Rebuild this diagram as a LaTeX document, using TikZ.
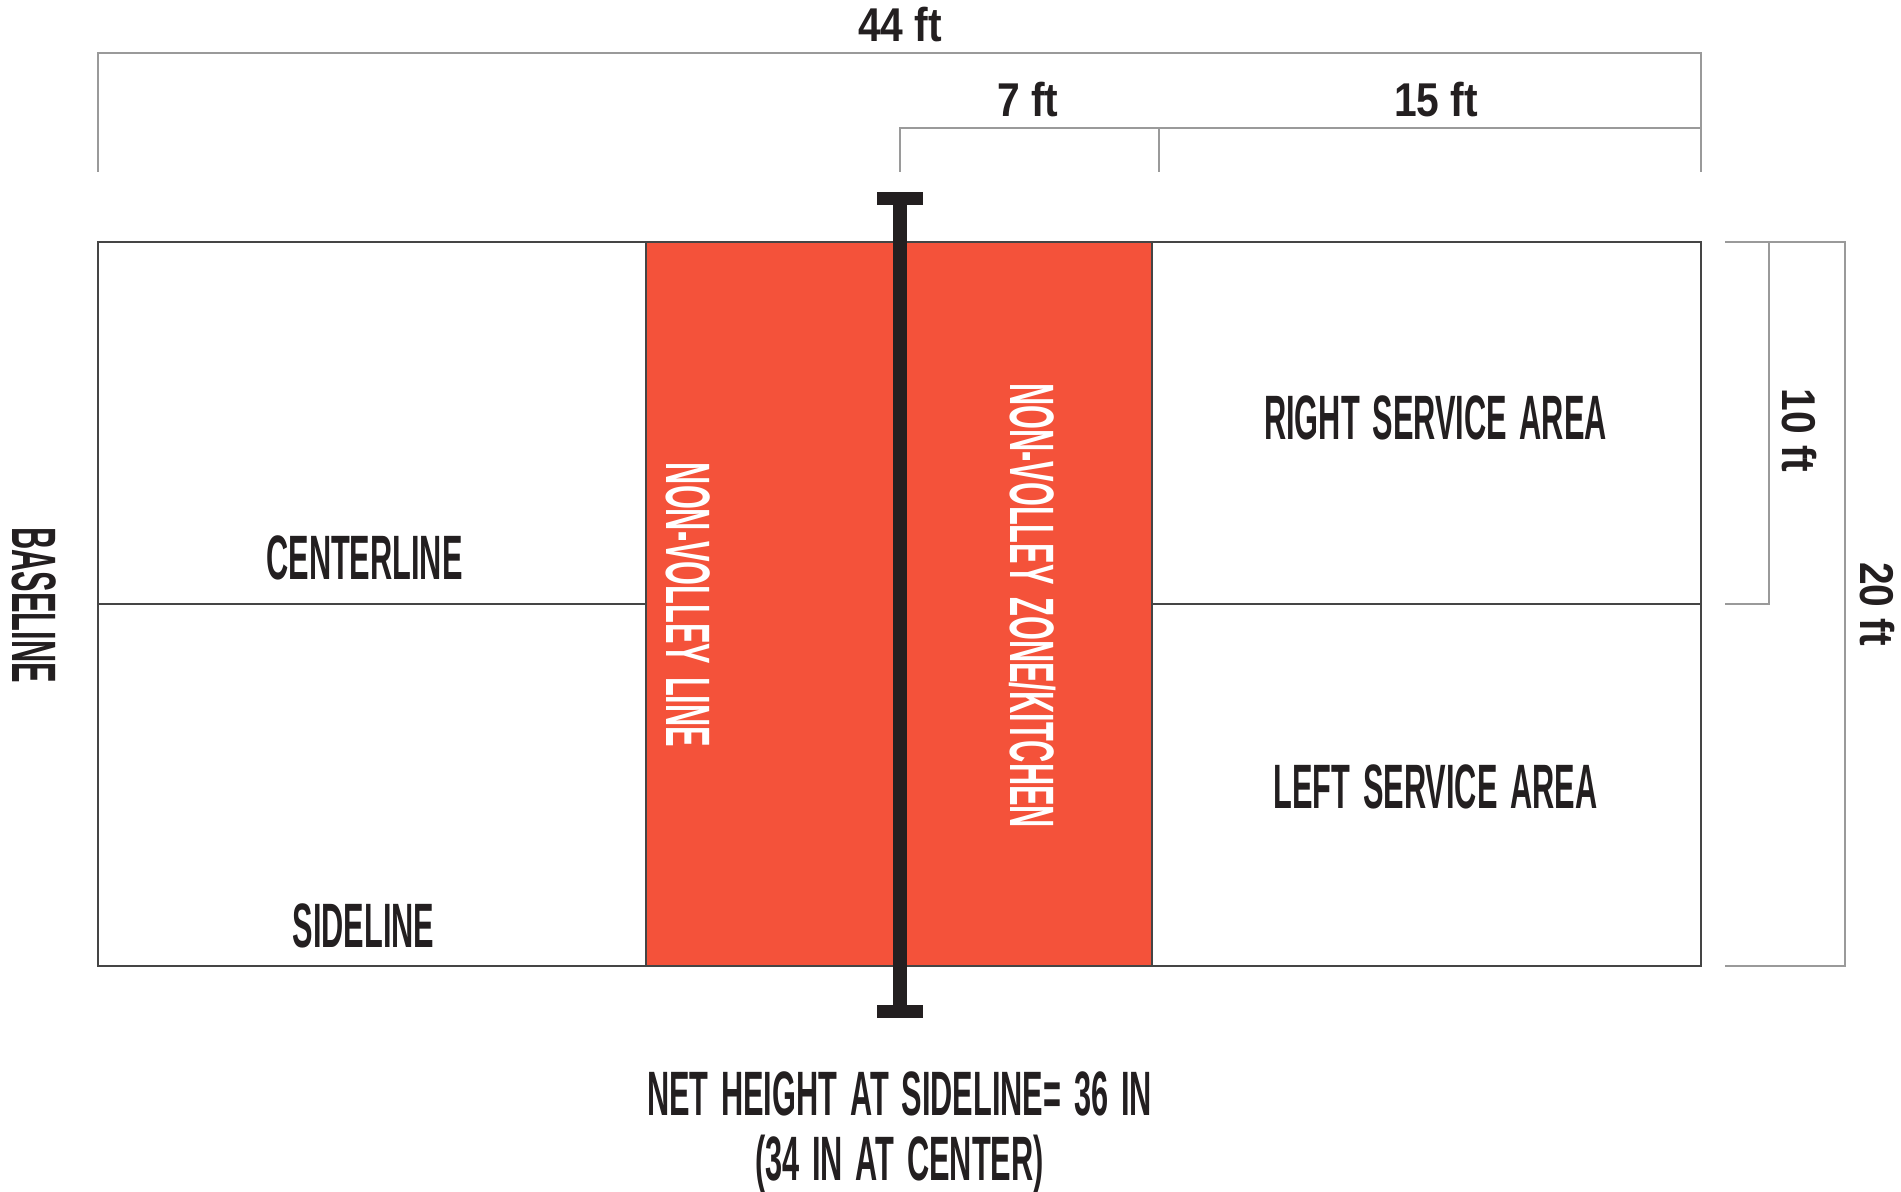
\documentclass[tikz,border=0pt]{standalone}
\usepackage{fontspec}
\setmainfont{Liberation Sans}
\newfontfamily\courtfont[FakeStretch=0.49,WordSpace=1.5]{Liberation Sans}
\newfontfamily\dimfont[FakeStretch=0.86]{Liberation Sans}
\definecolor{kitchen}{HTML}{F4523A}
\definecolor{ink}{HTML}{231F20}
\definecolor{courtline}{HTML}{454545}
\definecolor{dimline}{HTML}{9A9A9A}

\begin{document}
\begin{tikzpicture}[x=0.02cm,y=-0.02cm,
      courtlabel/.style={inner sep=0pt,anchor=base,text=ink,
        font=\courtfont\bfseries\fontsize{35.7}{40}\selectfont},
      dimlabel/.style={inner sep=0pt,anchor=base,text=ink,
        font=\dimfont\bfseries\fontsize{27}{30}\selectfont},
      court/.style={draw=courtline,line width=1.4pt},
      dimln/.style={draw=dimline,line width=0.85pt},
      netbar/.style={draw=ink,line width=7.5pt}]

      \useasboundingbox (0,0) rectangle (1901,1192);

      % court and kitchen
      \fill[kitchen] (646,242) rectangle (1152,966);
      \draw[court] (98,242) rectangle (1701,966);
      \draw[court] (646,242) -- (646,966) (1152,242) -- (1152,966);
      \draw[court] (98,604) -- (646,604) (1152,604) -- (1701,604);

      % net
      \coordinate (nettop) at (900,198);
      \coordinate (netbot) at (900,1011);
      \draw[netbar] (nettop) -- (netbot);
      \fill[ink] (877,192) rectangle (923,205);
      \fill[ink] (877,1005) rectangle (923,1018);

      % dimension lines
      \draw[dimln] (98,172) -- (98,53) -- (1701,53) -- (1701,172);
      \draw[dimln] (900,172) -- (900,128) -- (1701,128);
      \draw[dimln] (1159,128) -- (1159,172);
      \draw[dimln] (1725,242) -- (1845,242) -- (1845,966) -- (1725,966);
      \draw[dimln] (1769,242) -- (1769,604) -- (1725,604);

      \node[dimlabel] (total) at (900,42) {44 ft};
      \node[dimlabel] (kitchenwidth) at (1028,117) {7 ft};
      \node[dimlabel] (servicedepth) at (1436,117) {15 ft};
      \node[dimlabel,rotate=-90] (halfwidth) at (1782,430.5) {10 ft};
      \node[dimlabel,rotate=-90] (fullwidth) at (1860,604) {20 ft};

      % labels
      \node[courtlabel] (centerline) at (364.5,580) {CENTERLINE};
      \node[courtlabel] (sideline) at (363.5,947) {SIDELINE};
      \node[courtlabel] (rightarea) at (1435.5,440) {RIGHT SERVICE AREA};
      \node[courtlabel] (leftarea) at (1435.5,808) {LEFT SERVICE AREA};
      \node[courtlabel,rotate=-90] (baseline) at (12.5,605) {BASELINE};
      \node[courtlabel,rotate=-90,text=white] (nvline) at (666,605)
      {NON-VOLLEY LINE};
      \node[courtlabel,rotate=-90,text=white] (nvzone) at (1010,605.5)
      {NON-VOLLEY ZONE/KITCHEN};
      \node[courtlabel] (netheight) at (899.5,1115)
      {NET HEIGHT AT SIDELINE= 36 IN};
      \node[courtlabel] (netcenter) at (899.5,1180) {(34 IN AT CENTER)};
    \end{tikzpicture}
\end{document}
